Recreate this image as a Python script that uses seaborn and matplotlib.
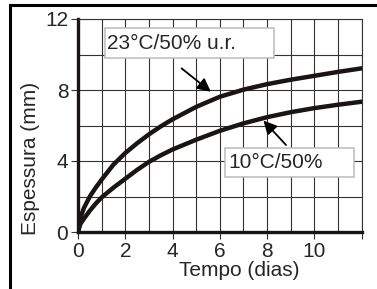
import pandas as pd
import matplotlib
matplotlib.use("Agg")
import matplotlib.pyplot as plt
import seaborn as sns
from matplotlib.patches import Rectangle

# values
tempo = [0, 0.1, 0.25, 0.5, 0.75, 1, 1.5, 2, 2.5, 3, 3.5, 4, 5, 6, 7, 8, 9, 10, 11, 12]
esp_23 = [0, 0.8, 1.35, 2.0, 2.5, 2.95, 3.8, 4.45, 5.0, 5.5, 5.95, 6.35, 7.05, 7.62,
          8.02, 8.33, 8.58, 8.8, 9.02, 9.22]
esp_10 = [0, 0.45, 0.75, 1.2, 1.6, 1.95, 2.5, 3.0, 3.5, 3.95, 4.32, 4.65, 5.2,
          5.7, 6.12, 6.47, 6.75, 6.98, 7.17, 7.34]
labels = ["23°C/50% u.r.", "10°C/50%"]
x_ticks = [0, 2, 4, 6, 8, 10, 12]
x_ticklabels = ["0", "2", "4", "6", "8", "10", ""]
y_ticks = [0, 4, 8, 12]

df = pd.DataFrame({
    "Tempo": tempo * 2,
    "Espessura": esp_23 + esp_10,
    "cond": [labels[0]] * len(tempo) + [labels[1]] * len(tempo),
})

sns.set_style("white")
plt.rcParams["font.family"] = ["Liberation Sans", "DejaVu Sans"]

fig = plt.figure(figsize=(3.77, 2.89), dpi=100)
ax = fig.add_axes([78 / 377, 57 / 289, 283.7 / 377, 213 / 289])

# grid: every day on x, every 2 mm on y
for gx in range(0, 13):
    ax.axvline(gx, color="#333333", lw=0.8, zorder=0)
for gy in range(0, 13, 2):
    ax.axhline(gy, color="#333333", lw=0.8, zorder=0)

sns.lineplot(data=df, x="Tempo", y="Espessura", hue="cond",
             palette=["#1a1412", "#1a1412"], lw=3.2, legend=False, ax=ax,
             zorder=3)

ax.set_xlim(0, 12)
ax.set_ylim(0, 12)
ax.set_xticks(x_ticks)
ax.set_xticklabels(x_ticklabels)
ax.set_yticks(y_ticks)
ax.tick_params(axis="both", labelsize=15, length=5, width=0.8,
               color="#333333", direction="out", pad=2)
ax.tick_params(axis="x", bottom=True)
ax.tick_params(axis="y", left=True)

for s in ["left", "bottom"]:
    ax.spines[s].set_linewidth(2.4)
    ax.spines[s].set_color("#1a1412")
for s in ["top", "right"]:
    ax.spines[s].set_linewidth(0.8)
    ax.spines[s].set_color("#333333")

ax.set_xlabel("Tempo (dias)", fontsize=15, labelpad=0)
ax.xaxis.label.set_x(0.57)
ax.set_ylabel("Espessura (mm)", fontsize=15, labelpad=4)
ax.yaxis.label.set_y(0.347)

# label boxes
ax.add_patch(Rectangle((1.14, 9.8), 7.15, 1.69, facecolor="white",
                       edgecolor="#bbbbbb", lw=1.1, zorder=4))
ax.text(1.21, 10.62, labels[0], fontsize=15, va="center", ha="left", zorder=5)
ax.add_patch(Rectangle((6.23, 3.08), 5.44, 1.64, facecolor="white",
                       edgecolor="#bbbbbb", lw=1.1, zorder=4))
ax.text(6.34, 3.92, labels[1], fontsize=15, va="center", ha="left", zorder=5)

arrow = dict(arrowstyle="-|>", color="black", lw=1.3, mutation_scale=20,
             shrinkA=0, shrinkB=0)
ax.annotate("", xy=(5.62, 7.9), xytext=(4.38, 9.22), arrowprops=arrow, zorder=6)
ax.annotate("", xy=(7.84, 6.28), xytext=(8.8, 4.9), arrowprops=arrow, zorder=6)

# outer frame (only left and top edges fall inside the picture)
fig.patches.append(Rectangle((9.5 / 377, -0.1), 1.2, 1.1 - 5 / 289,
                             transform=fig.transFigure, fill=False,
                             lw=2.2, ec="black"))

fig.savefig("out.png", dpi=100)
